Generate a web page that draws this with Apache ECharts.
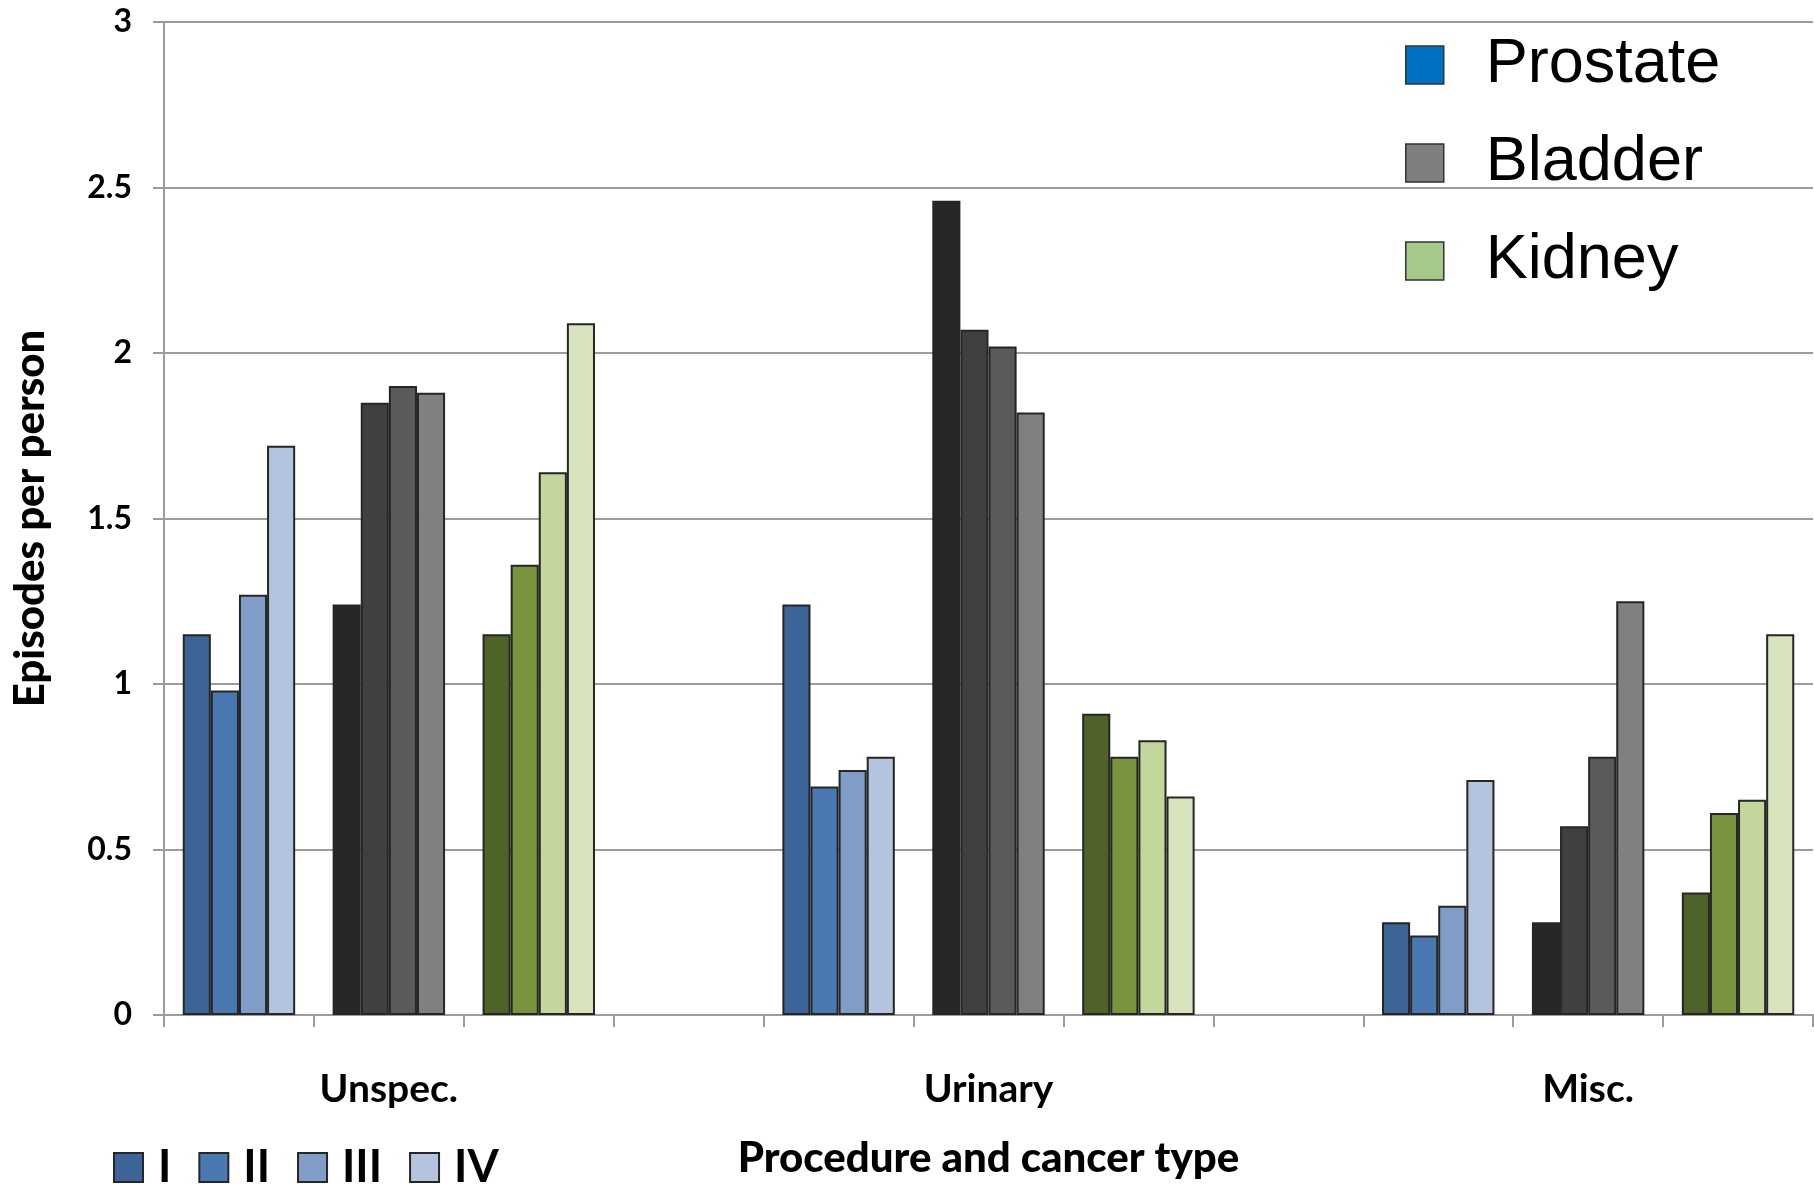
<!DOCTYPE html>
<html>
<head>
<meta charset="utf-8">
<script src="https://cdn.jsdelivr.net/npm/echarts@6/dist/echarts.min.js"></script>
<style>
  html, body { margin: 0; padding: 0; background: #ffffff; }
  #chart { width: 1814px; height: 1184px; }
</style>
</head>
<body>
<div id="chart"></div>
<script>
// Slots on the category axis: three procedures x three cancer types, with an empty slot between procedures
const categories = [
  'Unspec. Prostate', 'Unspec. Bladder', 'Unspec. Kidney', 'gap 1',
  'Urinary Prostate', 'Urinary Bladder', 'Urinary Kidney', 'gap 2',
  'Misc. Prostate', 'Misc. Bladder', 'Misc. Kidney'
];
const slotType = [
  'Prostate', 'Bladder', 'Kidney', null,
  'Prostate', 'Bladder', 'Kidney', null,
  'Prostate', 'Bladder', 'Kidney'
];
const tickLabels = ['', 'Unspec.', '', '', '', 'Urinary', '', '', '', 'Misc.', ''];

const stages = ['I', 'II', 'III', 'IV'];
const cancerTypes = ['Prostate', 'Bladder', 'Kidney'];

// Episodes per person by stage
const stageI   = [1.15, 1.24, 1.15, null, 1.24, 2.46, 0.91, null, 0.28, 0.28, 0.37];
const stageII  = [0.98, 1.85, 1.36, null, 0.69, 2.07, 0.78, null, 0.24, 0.57, 0.61];
const stageIII = [1.27, 1.90, 1.64, null, 0.74, 2.02, 0.83, null, 0.33, 0.78, 0.65];
const stageIV  = [1.72, 1.88, 2.09, null, 0.78, 1.82, 0.66, null, 0.71, 1.25, 1.15];
const stageValues = [stageI, stageII, stageIII, stageIV];

// Shades per cancer type, darkest for stage I
const shades = {
  Prostate: ['#3c6497', '#4a78b1', '#809dc8', '#b5c4de'],
  Bladder:  ['#272727', '#404040', '#5a5a5a', '#808080'],
  Kidney:   ['#4f6228', '#77933c', '#c3d69b', '#d7e4bd']
};
const typeSwatch = { Prostate: '#0070c0', Bladder: '#7f7f7f', Kidney: '#a6c98a' };

const edge = '#262626';
const gridGray = '#9c9c9c';

const barSeries = stages.map((stage, s) => ({
  name: stage,
  type: 'bar',
  barGap: '0%',
  barCategoryGap: '25%',
  itemStyle: { color: shades.Prostate[s], borderColor: edge, borderWidth: 2 },
  data: stageValues[s].map((v, i) => {
    if (v === null) return '-';
    return { value: v, itemStyle: { color: shades[slotType[i]][s], borderColor: edge, borderWidth: 2 } };
  })
}));

// Empty series that only feed the cancer-type key
const typeSeries = cancerTypes.map(t => ({
  name: t,
  type: 'line',
  data: [],
  itemStyle: { color: typeSwatch[t], borderColor: '#333333', borderWidth: 1.5 },
  lineStyle: { color: typeSwatch[t] }
}));

const chart = echarts.init(document.getElementById('chart'), null, { renderer: 'canvas' });

chart.setOption({
  animation: false,
  backgroundColor: '#ffffff',
  grid: { left: 164, right: 1, top: 22, bottom: 165, containLabel: false },
  legend: [
    {
      data: stages.map((s, i) => ({ name: s, itemStyle: { color: shades.Prostate[i], borderColor: edge, borderWidth: 2 } })),
      left: 108,
      top: 1140,
      orient: 'horizontal',
      icon: 'rect',
      itemWidth: 29,
      itemHeight: 29,
      itemGap: 27,
      textStyle: { fontFamily: 'Lato', fontWeight: 'bold', fontSize: 45, lineHeight: 36, color: '#000', padding: [0, 0, 0, 10] }
    },
    {
      data: cancerTypes.map(t => ({ name: t, itemStyle: { color: typeSwatch[t], borderColor: '#333333', borderWidth: 1.5 } })),
      left: 1400,
      top: 28,
      orient: 'vertical',
      icon: 'rect',
      itemWidth: 38,
      itemHeight: 38,
      itemGap: 34,
      textStyle: { fontFamily: 'Liberation Sans', fontSize: 63, lineHeight: 64, color: '#000', padding: [0, 0, 0, 37] }
    }
  ],
  xAxis: {
    type: 'category',
    data: categories,
    boundaryGap: true,
    name: 'Procedure and cancer type',
    nameLocation: 'middle',
    nameGap: 122,
    nameTextStyle: { fontFamily: 'Lato', fontWeight: 900, fontSize: 42, color: '#000' },
    axisLine: { show: true, lineStyle: { color: gridGray, width: 2 } },
    axisTick: { show: true, length: 12, lineStyle: { color: gridGray, width: 2 } },
    axisLabel: {
      interval: 0,
      margin: 55,
      fontFamily: 'Lato',
      fontWeight: 'bold',
      fontSize: 39,
      color: '#000',
      formatter: (val, idx) => tickLabels[idx]
    },
    splitLine: { show: false }
  },
  yAxis: {
    type: 'value',
    min: 0,
    max: 3,
    interval: 0.5,
    name: 'Episodes per person',
    nameLocation: 'middle',
    nameRotate: 90,
    nameGap: 113,
    nameTextStyle: { fontFamily: 'Lato', fontWeight: 900, fontSize: 42, color: '#000', padding: [0, 0, 0, 0] },
    axisLine: { show: true, lineStyle: { color: gridGray, width: 2 } },
    axisTick: { show: true, length: 11, lineStyle: { color: gridGray, width: 2 } },
    axisLabel: {
      margin: 32,
      fontFamily: 'Lato',
      fontWeight: 'bold',
      fontSize: 32,
      color: '#000',
      formatter: v => String(v)
    },
    splitLine: { show: true, lineStyle: { color: gridGray, width: 2 } }
  },
  series: barSeries.concat(typeSeries)
});
</script>
</body>
</html>
